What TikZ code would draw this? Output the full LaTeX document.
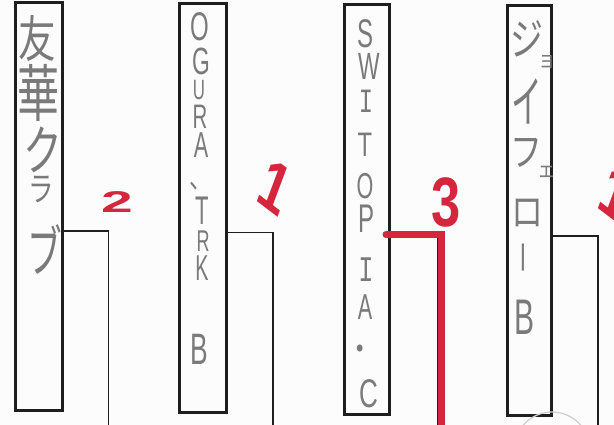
\documentclass[tikz,border=0pt]{standalone}
\usepackage{fontspec}
\setmainfont{Liberation Sans}
\newfontfamily\jp{Noto Sans CJK JP}
\newfontfamily\monof{Liberation Mono}
\definecolor{pencil}{HTML}{7A7A7A}
\definecolor{marker}{RGB}{214,38,62}
\definecolor{ink}{HTML}{1E1E1E}
\definecolor{paper}{HTML}{FCFCFC}
\definecolor{faint}{HTML}{CFCFCF}
\begin{document}
\begin{tikzpicture}[x=1pt,y=-1pt,
  teambox/.style n args={2}{draw=ink,line width=3pt,inner sep=0pt,minimum width=#1,minimum height=#2},
  wire/.style={draw=ink,line width=1.6pt,line join=miter},
  redwire/.style={draw=marker,line width=7pt,line join=miter,line cap=round},
  hw/.style n args={2}{text=pencil,inner sep=0pt,font=\fontsize{#1}{#1}\selectfont,xscale=#2},
  hj/.style n args={2}{text=pencil,inner sep=0pt,font=\jp\fontsize{#1}{#1}\selectfont,xscale=#2},
  score/.style n args={2}{text=marker,inner sep=0pt,font=\bfseries\fontsize{#1}{#1}\selectfont,xscale=#2}]
\useasboundingbox (0,0) rectangle (614,425);
\fill[paper] (0,0) rectangle (614,425);
\clip (0,0) rectangle (614,425);

% boxes
\node[teambox={46.5pt}{407pt}] (b1) at (38.75,206.5) {};
\node[teambox={47.5pt}{409pt}] (b2) at (202.75,208) {};
\node[teambox={45.5pt}{409.5pt}] (b3) at (366.75,209.25) {};
\node[teambox={44pt}{409pt}] (b4) at (529.5,210.5) {};

% connector coordinates
\coordinate (j1) at (108.5,231);
\coordinate (e1) at (108.5,430);
\coordinate (j2) at (273,232.5);
\coordinate (e2) at (273,430);
\coordinate (j3) at (437.5,232);
\coordinate (e3) at (437.5,430);
\coordinate (j4) at (598,236);
\coordinate (e4) at (598,430);
\coordinate (r3s) at (386,234.5);
\coordinate (r3c) at (441,234.5);
\coordinate (r3e) at (441,440);

\draw[wire] (b1.east |- j1) -- (j1) -- (e1);
\draw[wire] (b2.east |- j2) -- (j2) -- (e2);
\draw[wire] (b3.east |- j3) -- (j3) -- (e3);
\draw[wire] (b4.east |- j4) -- (j4) -- (e4);
\draw[redwire] (r3s) -- (r3c) -- (r3e);

% box 1: 友華クラブ
\node[hj={50}{0.75}] (t1a) at (37,38) {友};
\node[hj={62}{0.68}] (t1b) at (39,93) {華};
\node[hj={54}{0.72}] (t1c) at (43,150) {ク};
\node[hj={34}{0.75}] (t1d) at (41,190) {ラ};
\node[hj={56}{0.62}] (t1e) at (45,249) {ブ};

% box 2: OGURA、TRK B
\node[hw={40}{0.6}] (t2a) at (200,27) {O};
\node[hw={38}{0.6}] (t2b) at (201,61) {G};
\node[hw={28}{0.6}] (t2c) at (199,90) {U};
\node[hw={34}{0.6}] (t2d) at (200,117) {R};
\node[hw={36}{0.6}] (t2e) at (201,145) {A};
\node[hj={28}{0.8}] (t2f) at (201,186) {、};
\node[hw={40}{0.55}] (t2g) at (202,211) {T};
\node[hw={30}{0.6}] (t2h) at (203,241) {R};
\node[hw={36}{0.55}] (t2i) at (202,268) {K};
\node[hw={44}{0.6}] (t2j) at (199,349) {B};

% box 3: SWITOPIA・C
\node[hw={40}{0.6}] (t3a) at (366,34) {S};
\node[hw={38}{0.6}] (t3b) at (369,66) {W};
\node[text=pencil,inner sep=0pt,xscale=0.7,font=\monof\fontsize{34}{34}\selectfont] (t3c) at (366,101) {I};
\node[hw={34}{0.7}] (t3d) at (365,145) {T};
\node[hw={36}{0.6}] (t3e) at (365,186) {O};
\node[hw={40}{0.6}] (t3f) at (367,219) {P};
\node[text=pencil,inner sep=0pt,xscale=0.7,font=\monof\fontsize{36}{36}\selectfont] (t3g) at (366,270) {I};
\node[hw={36}{0.6}] (t3h) at (365,307) {A};
\node[hj={34}{0.8},rotate=90] (t3i) at (364,348) {・};
\node[hw={40}{0.65}] (t3j) at (369,394) {C};

% box 4: ジョイフェロー B
\node[hj={44}{0.75}] (t4a) at (527,39) {ジ};
\node[hj={22}{0.8}] (t4b) at (547,62) {ョ};
\node[hj={56}{0.55}] (t4c) at (527,101) {イ};
\node[hj={40}{0.8}] (t4d) at (526,153) {フ};
\node[hj={22}{0.85}] (t4e) at (547,172) {ェ};
\node[hj={40}{0.8}] (t4f) at (527,213) {ロ};
\node[hj={34}{0.7},rotate=90] (t4g) at (527,258) {ー};
\node[hw={50}{0.6}] (t4h) at (525,317) {B};

% red scores
\node[score={30}{1.9}] (s1) at (117,202) {2};
\node[score={72}{0.7},rotate=-28] (s2) at (275,187) {1};
\node[score={70}{0.75}] (s3) at (446,202) {3};
\node[score={72}{0.7},rotate=-28] (s4) at (616,194) {1};

% faint pencil circle at the bottom
\draw[faint,line width=1.3pt] (552,450) circle[radius=38];
\end{tikzpicture}
\end{document}
